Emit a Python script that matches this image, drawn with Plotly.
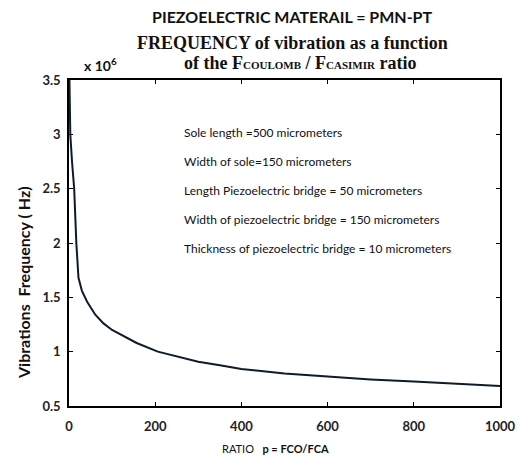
import plotly.graph_objects as go

# Data (frequency in units of 10^6 Hz)
ratio = [1, 3, 7, 12, 17, 22, 30, 42, 61, 80, 100, 157, 206, 300, 350, 400, 500, 600, 700, 800, 900, 1000]
freq = [3.5, 3.0, 2.75, 2.5, 2.0, 1.68, 1.56, 1.46, 1.34, 1.26, 1.2, 1.08, 1.0, 0.907, 0.875, 0.84, 0.80, 0.77, 0.745, 0.725, 0.703, 0.684]

x_ticks = [0, 200, 400, 600, 800, 1000]
y_ticks = [0.5, 1, 1.5, 2, 2.5, 3, 3.5]

info_lines = [
    "Sole length =500 micrometers",
    "Width of sole=150 micrometers",
    "Length Piezoelectric bridge = 50 micrometers",
    "Width of piezoelectric bridge = 150 micrometers",
    "Thickness of piezoelectric bridge = 10 micrometers",
]

W, H = 531, 458
L, R, T, B = 69, 31, 80, 52
pw, ph = W - L - R, H - T - B


def px(x):
    return (x - L) / pw


def py(y):
    return (H - B - y) / ph


fig = go.Figure()
fig.add_trace(go.Scatter(x=ratio, y=freq, mode="lines",
                         line=dict(color="#0d1b2a", width=2), showlegend=False))

tickfont = dict(family="Lato", size=13, color="#222222", weight="bold")
fig.update_xaxes(range=[0, 1000], tickvals=x_ticks, ticks="inside", ticklen=4,
                 showline=True, linecolor="#000000", linewidth=1.5, mirror="allticks",
                 showgrid=False, zeroline=False, tickfont=tickfont, tickcolor="#000000",
                 ticklabelstandoff=8)
fig.update_yaxes(range=[0.5, 3.5], tickvals=y_ticks, ticks="inside", ticklen=4,
                 showline=True, linecolor="#000000", linewidth=1.5, mirror="allticks",
                 showgrid=False, zeroline=False, tickfont=tickfont, tickcolor="#000000",
                 ticklabelstandoff=4)

ann = []
ann.append(dict(text="<b>PIEZOELECTRIC MATERAIL = PMN-PT</b>", x=px(292), y=py(16),
                font=dict(family="Lato", size=16, color="#111111")))
ann.append(dict(text="<b>FREQUENCY of vibration as a function</b>", x=px(292), y=py(43),
                font=dict(family="Liberation Serif", size=18, color="#111111")))
ann.append(dict(text="<b>of the F<span style='font-size:11px'>COULOMB</span> / F<span style='font-size:11px'>CASIMIR</span> ratio</b>",
                x=px(300), y=py(63),
                font=dict(family="Liberation Serif", size=18, color="#111111")))
ann.append(dict(text="<b>x 10<sup>6</sup></b>", x=px(82), y=py(64), xanchor="left",
                font=dict(family="Lato", size=14, color="#111111")))
ann.append(dict(text="<b>Vibrations  Frequency ( Hz)</b>", x=px(23), y=py(283), textangle=-90,
                font=dict(family="Lato", size=16, color="#111111")))
ann.append(dict(text="RATIO   <b>p = FCO/FCA</b>", x=px(275), y=py(448),
                font=dict(family="Lato", size=11, color="#111111")))
for i, t in enumerate(info_lines):
    ann.append(dict(text=t, x=px(182), y=py(132 + i * 29), xanchor="left",
                    font=dict(family="Lato", size=12, color="#111111")))

for a in ann:
    a.setdefault("xanchor", "center")
    a.update(xref="paper", yref="paper", yanchor="middle", showarrow=False)

fig.update_layout(width=W, height=H, margin=dict(l=L, r=R, t=T, b=B),
                  plot_bgcolor="white", paper_bgcolor="white", annotations=ann)

fig.write_html("out.html")
